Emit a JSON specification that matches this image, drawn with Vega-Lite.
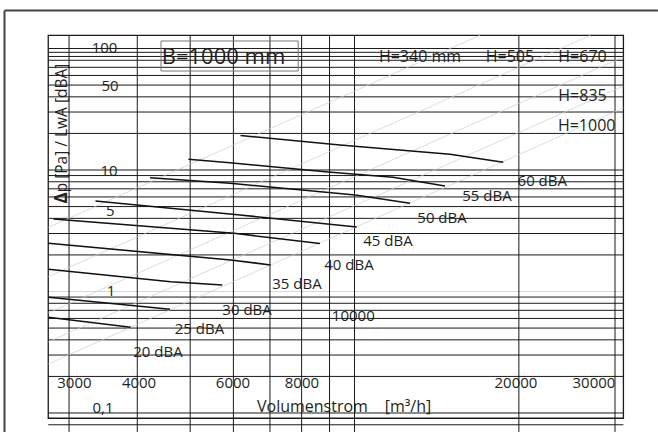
{
  "$schema": "https://vega.github.io/schema/vega-lite/v6.json",
  "width": 658,
  "height": 432,
  "padding": 0,
  "autosize": {"type": "none"},
  "background": "white",
  "config": {"view": {"stroke": null}},
  "encoding": {
    "x": {"field": "q", "type": "quantitative", "scale": {"type": "log", "domain": [2242, 35964], "nice": false}, "axis": null},
    "y": {"field": "p", "type": "quantitative", "scale": {"type": "log", "domain": [0.06976, 250.7], "nice": false}, "axis": null}
  },
  "layer": [
    {
      "data": {"values": [
        {"p": 0.08, "q": 2748, "q2": 31083}, {"p": 0.1, "q": 2748, "q2": 31083}, {"p": 0.2, "q": 2748, "q2": 31083}, {"p": 0.3, "q": 2748, "q2": 31083},
        {"p": 0.4, "q": 2748, "q2": 31083}, {"p": 0.5, "q": 2748, "q2": 31083}, {"p": 0.6, "q": 2748, "q2": 31083}, {"p": 0.7, "q": 2748, "q2": 31083},
        {"p": 0.8, "q": 2748, "q2": 31083}, {"p": 0.9, "q": 2748, "q2": 31083}, {"p": 2, "q": 2748, "q2": 31083}, {"p": 3, "q": 2748, "q2": 31083},
        {"p": 4, "q": 2748, "q2": 31083}, {"p": 5, "q": 2748, "q2": 31083}, {"p": 6, "q": 2748, "q2": 31083}, {"p": 7, "q": 2748, "q2": 31083},
        {"p": 8, "q": 2748, "q2": 31083}, {"p": 9, "q": 2748, "q2": 31083}, {"p": 10, "q": 2748, "q2": 31083}, {"p": 20, "q": 2748, "q2": 31083},
        {"p": 30, "q": 2748, "q2": 31083}, {"p": 40, "q": 2748, "q2": 31083}, {"p": 50, "q": 2748, "q2": 31083}, {"p": 60, "q": 2748, "q2": 31083},
        {"p": 70, "q": 2748, "q2": 31083}, {"p": 80, "q": 2748, "q2": 31083}, {"p": 86, "q": 2748, "q2": 31083}, {"p": 93, "q": 2748, "q2": 31083},
        {"p": 100, "q": 2748, "q2": 31083}
      ]},
      "mark": {"type": "rule", "color": "#1a1a1a", "strokeWidth": 1},
      "encoding": {"x2": {"field": "q2"}}
    },
    {
      "data": {"values": [{"p": 1, "q": 2748, "q2": 31083}]},
      "mark": {"type": "rule", "color": "#d8d8d8", "strokeWidth": 1},
      "encoding": {"x2": {"field": "q2"}}
    },
    {
      "data": {"values": [
        {"q": 3000, "p": 128.4, "p2": 0.0698}, {"q": 4000, "p": 128.4, "p2": 0.0698}, {"q": 5000, "p": 128.4, "p2": 0.0698},
        {"q": 6000, "p": 128.4, "p2": 0.0698}, {"q": 7000, "p": 128.4, "p2": 0.0698}, {"q": 8000, "p": 128.4, "p2": 0.0698},
        {"q": 9000, "p": 128.4, "p2": 0.0698}, {"q": 10000, "p": 128.4, "p2": 0.0698}, {"q": 20000, "p": 128.4, "p2": 0.0698},
        {"q": 30000, "p": 128.4, "p2": 0.0698}
      ]},
      "mark": {"type": "rule", "color": "#1a1a1a", "strokeWidth": 1},
      "encoding": {"y2": {"field": "p2"}}
    },
    {
      "data": {"values": [{"q": 2748, "q2": 31083, "p": 128.4, "p2": 0.0905}]},
      "mark": {"type": "rect", "filled": false, "stroke": "#1a1a1a", "strokeWidth": 1.3},
      "encoding": {"x2": {"field": "q2"}, "y2": {"field": "p2"}}
    },
    {
      "data": {"values": [{"q": 2285, "q2": 35960, "p": 205.5}]},
      "mark": {"type": "rule", "color": "#444444", "strokeWidth": 2},
      "encoding": {"x2": {"field": "q2"}}
    },
    {
      "data": {"values": [{"q": 2285, "p": 205.5, "p2": 0.0698}]},
      "mark": {"type": "rule", "color": "#444444", "strokeWidth": 2},
      "encoding": {"y2": {"field": "p2"}}
    },
    {
      "data": {"values": [
        {"h": "1000", "q": 2748, "p": 0.2531}, {"h": "1000", "q": 31083, "p": 32.38},
        {"h": "835", "q": 2748, "p": 0.3841}, {"h": "835", "q": 31083, "p": 49.13},
        {"h": "670", "q": 2748, "p": 0.6652}, {"h": "670", "q": 31083, "p": 85.11},
        {"h": "505", "q": 2748, "p": 1.3265}, {"h": "505", "q": 27050, "p": 128.4},
        {"h": "340", "q": 2748, "p": 3.37}, {"h": "340", "q": 16974, "p": 128.4}
      ]},
      "mark": {"type": "line", "color": "#cdcdcd", "strokeWidth": 0.7},
      "encoding": {"detail": {"field": "h"}}
    },
    {
      "data": {"values": [
        {"db": 20, "q": 2748, "p": 0.6133}, {"db": 20, "q": 3891, "p": 0.5073},
        {"db": 25, "q": 2750, "p": 0.896}, {"db": 25, "q": 4592, "p": 0.7137},
        {"db": 30, "q": 2750, "p": 1.523}, {"db": 30, "q": 4606, "p": 1.204}, {"db": 30, "q": 5725, "p": 1.131},
        {"db": 35, "q": 2750, "p": 2.493}, {"db": 35, "q": 5932, "p": 1.816}, {"db": 35, "q": 7022, "p": 1.652},
        {"db": 40, "q": 2809, "p": 3.951}, {"db": 40, "q": 6015, "p": 3.012}, {"db": 40, "q": 8644, "p": 2.484},
        {"db": 45, "q": 3354, "p": 5.556}, {"db": 45, "q": 6169, "p": 4.263}, {"db": 45, "q": 10091, "p": 3.395},
        {"db": 50, "q": 4221, "p": 8.645}, {"db": 50, "q": 5914, "p": 7.774}, {"db": 50, "q": 10032, "p": 6.225}, {"db": 50, "q": 12636, "p": 5.321},
        {"db": 55, "q": 4962, "p": 12.25}, {"db": 55, "q": 5914, "p": 11.48}, {"db": 55, "q": 8941, "p": 9.627}, {"db": 55, "q": 11761, "p": 8.708}, {"db": 55, "q": 14646, "p": 7.385},
        {"db": 60, "q": 6182, "p": 19.22}, {"db": 60, "q": 9405, "p": 16.06}, {"db": 60, "q": 14958, "p": 13.47}, {"db": 60, "q": 18728, "p": 11.57}
      ]},
      "mark": {"type": "line", "color": "#111111", "strokeWidth": 1.6},
      "encoding": {"detail": {"field": "db"}}
    },
    {
      "data": {"values": [{"q": 4421, "q2": 7886, "p": 115.3, "p2": 65.28}]},
      "mark": {"type": "rect", "filled": false, "stroke": "#777777", "strokeWidth": 1},
      "encoding": {"x2": {"field": "q2"}, "y2": {"field": "p2"}}
    },
    {
      "data": {"values": [
        {"t": "100", "q": 3484, "p": 100.0},
        {"t": "50", "q": 3566, "p": 49.13},
        {"t": "10", "q": 3551, "p": 9.905},
        {"t": "5", "q": 3570, "p": 4.598},
        {"t": "1", "q": 3581, "p": 1.0},
        {"t": "0,1", "q": 3462, "p": 0.1089},
        {"t": "3000", "q": 3069, "p": 0.1782},
        {"t": "4000", "q": 4030, "p": 0.1782},
        {"t": "6000", "q": 5990, "p": 0.1782},
        {"t": "8000", "q": 8010, "p": 0.1782},
        {"t": "10000", "q": 9947, "p": 0.6287},
        {"t": "20000", "q": 19754, "p": 0.1782},
        {"t": "30000", "q": 27453, "p": 0.1782},
        {"t": "60 dBA", "q": 22075, "p": 8.117},
        {"t": "55 dBA", "q": 17480, "p": 6.108},
        {"t": "50 dBA", "q": 14463, "p": 4.004},
        {"t": "45 dBA", "q": 11515, "p": 2.604},
        {"t": "40 dBA", "q": 9768, "p": 1.652},
        {"t": "35 dBA", "q": 7843, "p": 1.153},
        {"t": "30 dBA", "q": 6355, "p": 0.6976},
        {"t": "25 dBA", "q": 5200, "p": 0.4912},
        {"t": "20 dBA", "q": 4365, "p": 0.3177}
      ]},
      "mark": {"type": "text", "font": "Open Sans", "fontSize": 15, "color": "#231f20", "align": "center", "baseline": "middle"},
      "encoding": {"text": {"field": "t"}}
    },
    {
      "data": {"values": [
        {"t": "H=340 mm", "q": 13180, "p": 85.11},
        {"t": "H=505", "q": 19261, "p": 85.11},
        {"t": "H=670", "q": 26153, "p": 85.11},
        {"t": "H=835", "q": 26153, "p": 40.64},
        {"t": "H=1000", "q": 26621, "p": 23.02},
        {"t": "Volumenstrom", "q": 8374, "p": 0.111},
        {"t": "[m³/h]", "q": 12530, "p": 0.111}
      ]},
      "mark": {"type": "text", "font": "Open Sans", "fontSize": 16, "color": "#231f20", "align": "center", "baseline": "middle"},
      "encoding": {"text": {"field": "t"}}
    },
    {
      "data": {"values": [{"t": "B=1000 mm", "q": 5754, "p": 85.11}]},
      "mark": {"type": "text", "font": "Open Sans", "fontSize": 22, "color": "#231f20", "align": "center", "baseline": "middle"},
      "encoding": {"text": {"field": "t"}}
    },
    {
      "data": {"values": [{"t": "p [Pa] / LwA [dBA]", "q": 2918, "p": 22.17}]},
      "mark": {"type": "text", "font": "Open Sans", "fontSize": 15.5, "color": "#231f20", "align": "center", "baseline": "middle", "angle": 270},
      "encoding": {"text": {"field": "t"}}
    },
    {
      "data": {"values": [{"t": "Δ", "q": 2918, "p": 5.884}]},
      "mark": {"type": "text", "font": "Open Sans", "fontSize": 17, "fontWeight": "bold", "color": "#231f20", "align": "center", "baseline": "middle", "angle": 270},
      "encoding": {"text": {"field": "t"}}
    }
  ]
}
